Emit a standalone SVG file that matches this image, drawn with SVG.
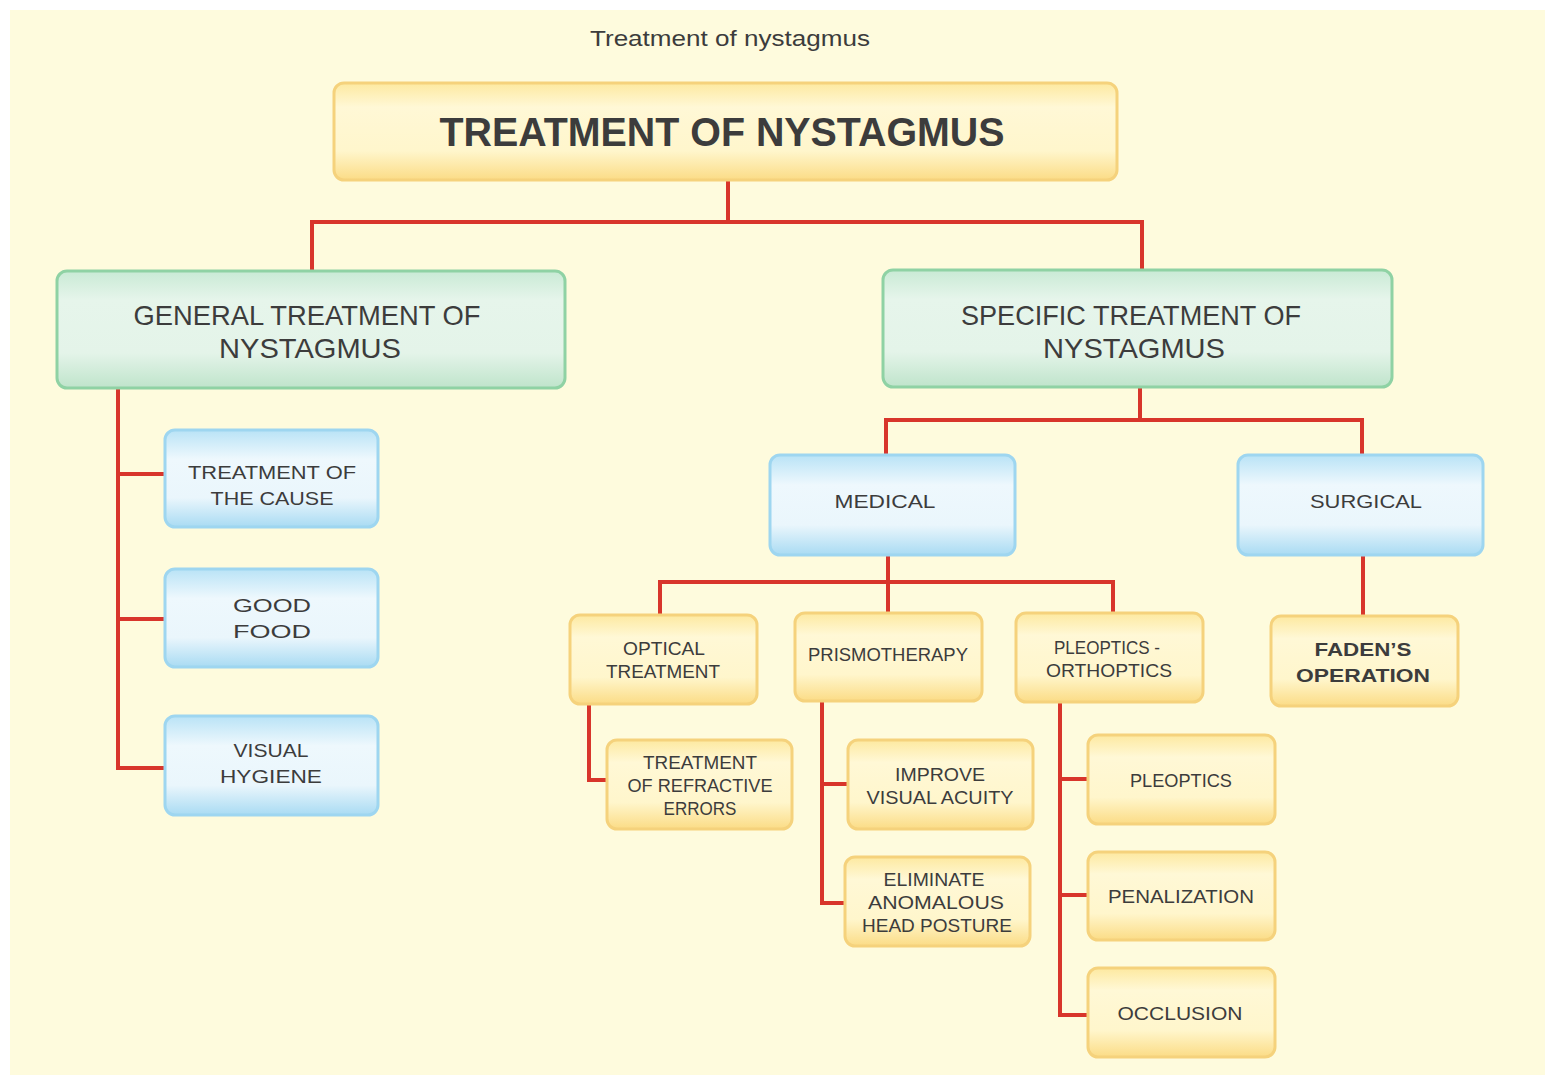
<svg xmlns="http://www.w3.org/2000/svg" width="1552" height="1078" viewBox="0 0 1552 1078">
<defs>
<linearGradient id="gy" x1="0" y1="0" x2="0" y2="1">
<stop offset="0" stop-color="#fde9a0"/><stop offset="0.25" stop-color="#fff8d6"/><stop offset="0.7" stop-color="#fff6cc"/><stop offset="1" stop-color="#fbdc86"/>
</linearGradient>
<linearGradient id="gg" x1="0" y1="0" x2="0" y2="1">
<stop offset="0" stop-color="#c9ead5"/><stop offset="0.25" stop-color="#e6f5eb"/><stop offset="0.7" stop-color="#e4f4e9"/><stop offset="1" stop-color="#bfe4cb"/>
</linearGradient>
<linearGradient id="gb" x1="0" y1="0" x2="0" y2="1">
<stop offset="0" stop-color="#b9e3f6"/><stop offset="0.3" stop-color="#eef8fd"/><stop offset="0.7" stop-color="#eaf6fc"/><stop offset="1" stop-color="#a9dbf3"/>
</linearGradient>
<style>
.y{fill:url(#gy);stroke:#f5d27c;stroke-width:3}
.g{fill:url(#gg);stroke:#8fd2a4;stroke-width:3}
.b{fill:url(#gb);stroke:#9ed6f0;stroke-width:3}
text{font-family:"Liberation Sans",Arial,sans-serif;fill:#3c3c3c;text-anchor:middle}
.s{font-size:19px}
.m{font-size:28px}
.c{fill:none;stroke:#d8352b;stroke-width:4}
</style>
</defs>
<rect x="0" y="0" width="1552" height="1078" fill="#ffffff"/>
<rect x="10" y="10" width="1535" height="1065" fill="#fefbdd"/>
<text x="730" y="46" font-size="22" fill="#555" textLength="280" lengthAdjust="spacingAndGlyphs">Treatment of nystagmus</text>

<g id="connectors">
<path class="c" d="M728 180V222M312 222H1142M312 220V271M1142 220V271"/>
<path class="c" d="M118 388V768M116 474H166M116 619H166M116 768H166"/>
<path class="c" d="M1140 387V420M886 420H1362M886 418V456M1362 418V456"/>
<path class="c" d="M888 555V582M660 582H1113M660 580V616M888 580V614M1113 580V614"/>
<path class="c" d="M1363 555V617"/>
<path class="c" d="M589 704V780H608"/>
<path class="c" d="M822 701V903M820 784H849M820 903H846"/>
<path class="c" d="M1060 702V1015M1058 779H1089M1058 895H1089M1058 1015H1089"/>
</g>

<g id="root"><rect class="y" x="334" y="83" width="783" height="97" rx="10"/>
<text x="722" y="146" font-size="40" font-weight="bold" fill="#2e2e2e" textLength="565" lengthAdjust="spacingAndGlyphs">TREATMENT OF NYSTAGMUS</text></g>

<g id="general"><rect class="g" x="57" y="271" width="508" height="117" rx="10"/>
<text class="m" x="307" y="325" textLength="347" lengthAdjust="spacingAndGlyphs">GENERAL TREATMENT OF</text>
<text class="m" x="310" y="358" textLength="182" lengthAdjust="spacingAndGlyphs">NYSTAGMUS</text></g>

<g id="specific"><rect class="g" x="883" y="270" width="509" height="117" rx="10"/>
<text class="m" x="1131" y="325" textLength="340" lengthAdjust="spacingAndGlyphs">SPECIFIC TREATMENT OF</text>
<text class="m" x="1134" y="358" textLength="182" lengthAdjust="spacingAndGlyphs">NYSTAGMUS</text></g>

<g id="cause"><rect class="b" x="165" y="430" width="213" height="97" rx="10"/>
<text class="s" x="272" y="479" textLength="168" lengthAdjust="spacingAndGlyphs">TREATMENT OF</text>
<text class="s" x="272" y="505" textLength="123" lengthAdjust="spacingAndGlyphs">THE CAUSE</text></g>

<g id="food"><rect class="b" x="165" y="569" width="213" height="98" rx="10"/>
<text class="s" x="272" y="612" textLength="78" lengthAdjust="spacingAndGlyphs">GOOD</text>
<text class="s" x="272" y="638" textLength="78" lengthAdjust="spacingAndGlyphs">FOOD</text></g>

<g id="hygiene"><rect class="b" x="165" y="716" width="213" height="99" rx="10"/>
<text class="s" x="271" y="757" textLength="75" lengthAdjust="spacingAndGlyphs">VISUAL</text>
<text class="s" x="271" y="783" textLength="102" lengthAdjust="spacingAndGlyphs">HYGIENE</text></g>

<g id="medical"><rect class="b" x="770" y="455" width="245" height="100" rx="10"/>
<text class="s" x="885" y="508" textLength="101" lengthAdjust="spacingAndGlyphs">MEDICAL</text></g>

<g id="surgical"><rect class="b" x="1238" y="455" width="245" height="100" rx="10"/>
<text class="s" x="1366" y="508" textLength="112" lengthAdjust="spacingAndGlyphs">SURGICAL</text></g>

<g id="optical"><rect class="y" x="570" y="615" width="187" height="89" rx="10"/>
<text class="s" x="664" y="655" textLength="82" lengthAdjust="spacingAndGlyphs">OPTICAL</text>
<text class="s" x="663" y="678" textLength="114" lengthAdjust="spacingAndGlyphs">TREATMENT</text></g>

<g id="prismo"><rect class="y" x="795" y="613" width="187" height="88" rx="10"/>
<text class="s" x="888" y="661" textLength="160" lengthAdjust="spacingAndGlyphs">PRISMOTHERAPY</text></g>

<g id="pleoortho"><rect class="y" x="1016" y="613" width="187" height="89" rx="10"/>
<text class="s" x="1107" y="654" textLength="106" lengthAdjust="spacingAndGlyphs">PLEOPTICS -</text>
<text class="s" x="1109" y="677" textLength="126" lengthAdjust="spacingAndGlyphs">ORTHOPTICS</text></g>

<g id="faden"><rect class="y" x="1271" y="616" width="187" height="90" rx="10"/>
<text class="s" x="1363" y="656" font-weight="bold" fill="#333" textLength="97" lengthAdjust="spacingAndGlyphs">FADEN’S</text>
<text class="s" x="1363" y="682" font-weight="bold" fill="#333" textLength="134" lengthAdjust="spacingAndGlyphs">OPERATION</text></g>

<g id="refractive"><rect class="y" x="607" y="740" width="185" height="89" rx="10"/>
<text class="s" x="700" y="769" textLength="114" lengthAdjust="spacingAndGlyphs">TREATMENT</text>
<text class="s" x="700" y="792" textLength="145" lengthAdjust="spacingAndGlyphs">OF REFRACTIVE</text>
<text class="s" x="700" y="815" textLength="73" lengthAdjust="spacingAndGlyphs">ERRORS</text></g>

<g id="acuity"><rect class="y" x="848" y="740" width="185" height="89" rx="10"/>
<text class="s" x="940" y="781" textLength="90" lengthAdjust="spacingAndGlyphs">IMPROVE</text>
<text class="s" x="940" y="804" textLength="147" lengthAdjust="spacingAndGlyphs">VISUAL ACUITY</text></g>

<g id="posture"><rect class="y" x="845" y="857" width="185" height="89" rx="10"/>
<text class="s" x="934" y="886" textLength="101" lengthAdjust="spacingAndGlyphs">ELIMINATE</text>
<text class="s" x="936" y="909" textLength="136" lengthAdjust="spacingAndGlyphs">ANOMALOUS</text>
<text class="s" x="937" y="932" textLength="150" lengthAdjust="spacingAndGlyphs">HEAD POSTURE</text></g>

<g id="pleoptics"><rect class="y" x="1088" y="735" width="187" height="89" rx="10"/>
<text class="s" x="1181" y="787" textLength="102" lengthAdjust="spacingAndGlyphs">PLEOPTICS</text></g>

<g id="penalization"><rect class="y" x="1088" y="852" width="187" height="88" rx="10"/>
<text class="s" x="1181" y="903" textLength="146" lengthAdjust="spacingAndGlyphs">PENALIZATION</text></g>

<g id="occlusion"><rect class="y" x="1088" y="968" width="187" height="89" rx="10"/>
<text class="s" x="1180" y="1020" textLength="125" lengthAdjust="spacingAndGlyphs">OCCLUSION</text></g>
</svg>
